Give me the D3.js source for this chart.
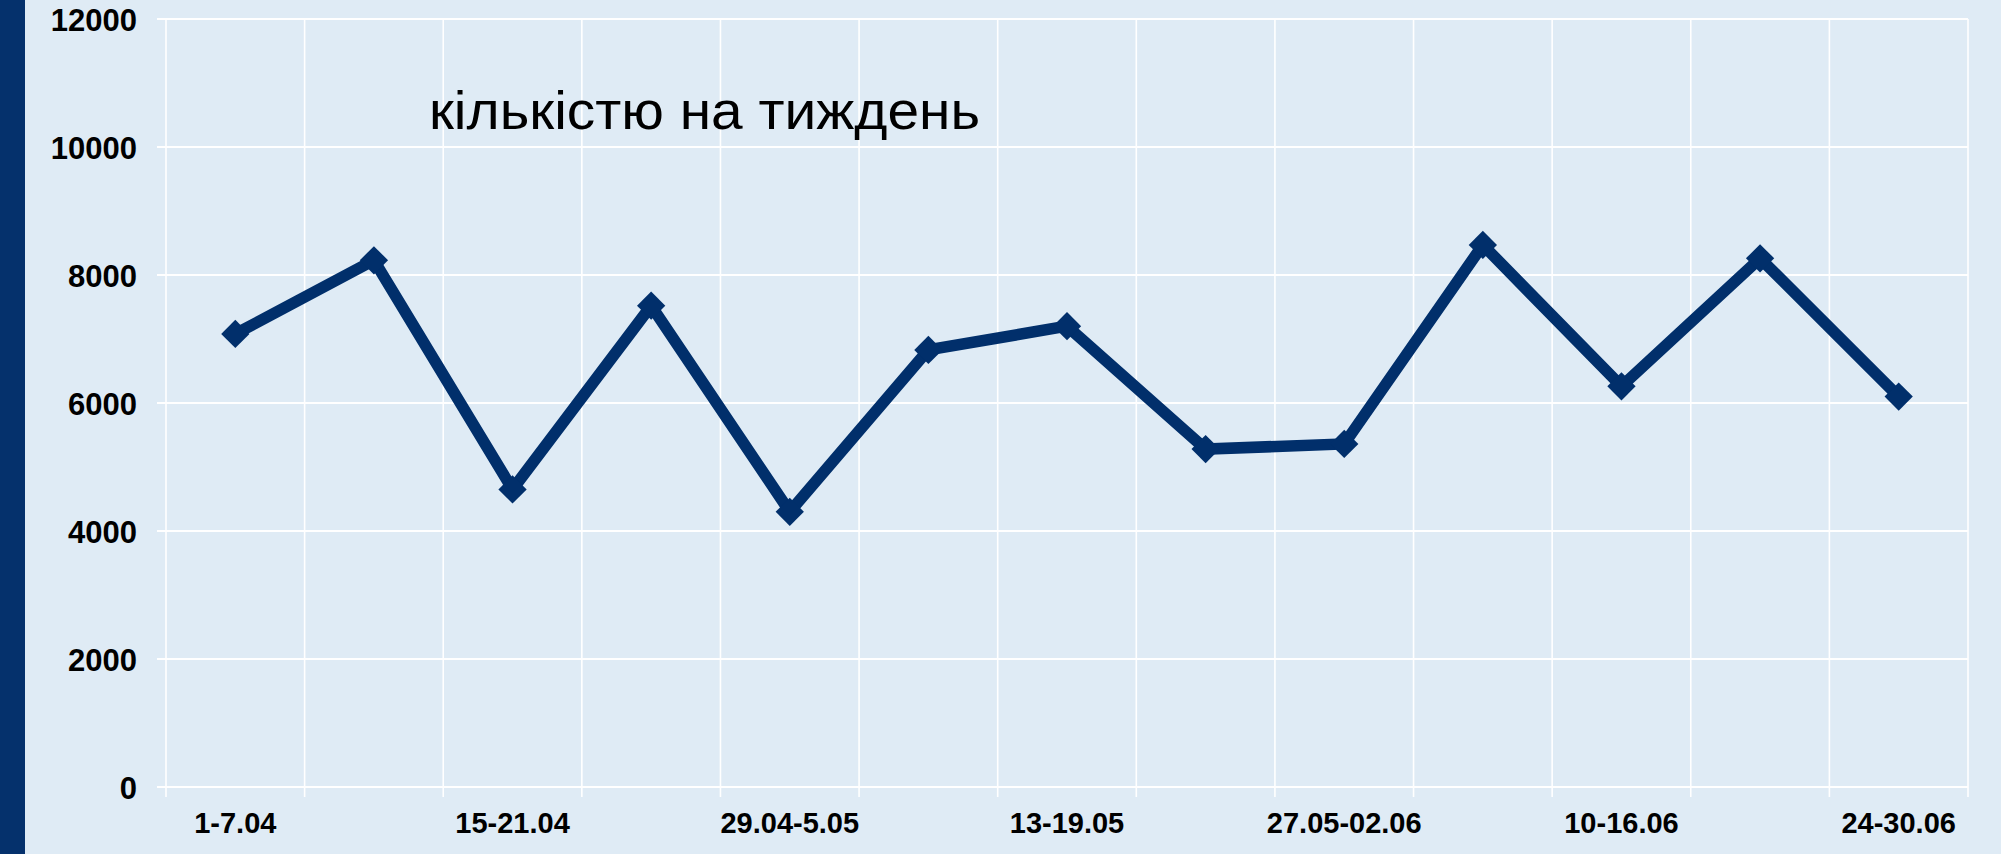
<!DOCTYPE html>
<html>
<head>
<meta charset="utf-8">
<script src="https://cdn.jsdelivr.net/npm/d3@7"></script>
<style>
  html, body { margin: 0; padding: 0; background: #dfebf5; overflow: hidden; }
  svg { display: block; }
</style>
</head>
<body>
<script>
// ---- data ----
const categories = ["1-7.04", "8-14.04", "15-21.04", "22-28.04", "29.04-5.05", "6-12.05", "13-19.05",
                    "20-26.05", "27.05-02.06", "03-09.06", "10-16.06", "17-23.06", "24-30.06"];
const values = [7080, 8230, 4650, 7520, 4300, 6830, 7200, 5280, 5360, 8470, 6260, 8260, 6100];
const yTicks = [0, 2000, 4000, 6000, 8000, 10000, 12000];
const shownLabels = ["1-7.04", "15-21.04", "29.04-5.05", "13-19.05", "27.05-02.06", "10-16.06", "24-30.06"];
const titleText = "кількістю на тиждень";

// ---- layout ----
const W = 2001, H = 854;
const plotL = 166, plotR = 1968, plotT = 19, plotB = 787;
const navy = "#012f6b";

const svg = d3.select("body").append("svg").attr("width", W).attr("height", H);
svg.append("rect").attr("width", W).attr("height", H).attr("fill", "#dfebf5");
svg.append("rect").attr("x", 0).attr("y", 0).attr("width", 25).attr("height", H).attr("fill", "#05316c");

const x = d3.scaleBand().domain(categories).range([plotL, plotR]).padding(0);
const y = d3.scaleLinear().domain([0, 12000]).range([plotB, plotT]);

// vertical gridlines at band boundaries
const edges = categories.map(c => x(c)).concat([x(categories[categories.length - 1]) + x.bandwidth()]);
svg.append("g").selectAll("line").data(edges).join("line")
  .attr("x1", d => d).attr("x2", d => d)
  .attr("y1", plotT).attr("y2", plotB + 10)
  .attr("stroke", "#ffffff").attr("stroke-width", 1.6);

// horizontal gridlines
svg.append("g").selectAll("line").data(yTicks).join("line")
  .attr("x1", plotL - 9).attr("x2", plotR)
  .attr("y1", d => y(d)).attr("y2", d => y(d))
  .attr("stroke", "#ffffff").attr("stroke-width", 2);

// y axis labels
const yAxis = d3.axisLeft(y).tickValues(yTicks).tickSize(0).tickPadding(0).tickFormat(d3.format("d"));
const gy = svg.append("g").attr("transform", `translate(${137},0)`).call(yAxis);
gy.select(".domain").remove();
gy.selectAll("text")
  .attr("font-family", "'Liberation Sans', Arial, sans-serif")
  .attr("font-weight", "bold").attr("font-size", 31).attr("fill", "#000")
  .attr("dy", "0.36em");

// x axis labels
const xAxis = d3.axisBottom(x).tickSize(0).tickPadding(0)
  .tickFormat(d => shownLabels.includes(d) ? d : "");
const gx = svg.append("g").attr("transform", `translate(0,${plotB})`).call(xAxis);
gx.select(".domain").remove();
gx.selectAll("text")
  .attr("font-family", "'Liberation Sans', Arial, sans-serif")
  .attr("font-weight", "bold").attr("font-size", 29).attr("fill", "#000")
  .attr("y", 46).attr("dy", 0);

// line
const line = d3.line()
  .x((d, i) => x(categories[i]) + x.bandwidth() / 2)
  .y(d => y(d));
svg.append("path").datum(values)
  .attr("d", line)
  .attr("fill", "none").attr("stroke", navy).attr("stroke-width", 11.5)
  .attr("stroke-linejoin", "miter");

// diamond markers
const sym = d3.symbol().type(d3.symbolSquare).size(400);
svg.append("g").selectAll("path").data(values).join("path")
  .attr("d", sym)
  .attr("transform", (d, i) => `translate(${x(categories[i]) + x.bandwidth() / 2},${y(d)}) rotate(45)`)
  .attr("fill", navy);

// title
svg.append("text")
  .attr("x", 429).attr("y", 129)
  .attr("font-family", "'Liberation Sans', Arial, sans-serif")
  .attr("font-size", 53).attr("fill", "#000")
  .attr("textLength", 551).attr("lengthAdjust", "spacingAndGlyphs")
  .text(titleText);
</script>
</body>
</html>
